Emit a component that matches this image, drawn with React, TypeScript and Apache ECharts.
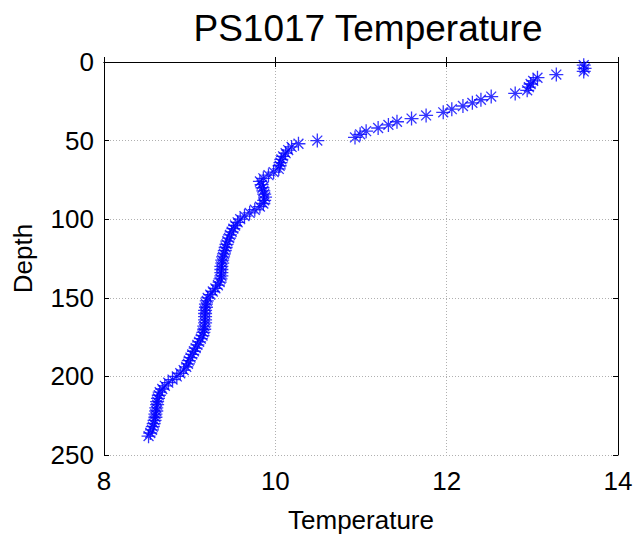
import React, { useEffect, useRef } from "react";
import * as echarts from "echarts";

const depths: number[] = [
  2, 4, 6, 8, 10, 12, 14, 16, 18, 20, 22, 24, 26, 28, 30, 32, 34, 36, 38, 40,
  42, 44, 46, 48, 50, 52, 54, 56, 58, 60, 62, 64, 66, 68, 70, 72, 74, 76, 78, 80,
  82, 84, 86, 88, 90, 92, 94, 96, 98, 100, 102, 104, 106, 108, 110, 112, 114, 116, 118, 120,
  122, 124, 126, 128, 130, 132, 134, 136, 138, 140, 142, 144, 146, 148, 150, 152, 154, 156, 158, 160,
  162, 164, 166, 168, 170, 172, 174, 176, 178, 180, 182, 184, 186, 188, 190, 192, 194, 196, 198, 200,
  202, 204, 206, 208, 210, 212, 214, 216, 218, 220, 222, 224, 226, 228, 230, 232, 234, 236, 238,
];

const temperatures: number[] = [
  13.6, 13.61, 13.6, 13.28, 13.06, 13.01, 12.98, 12.96, 12.94, 12.8, 12.52, 12.4, 12.3, 12.19, 12.06, 11.96, 11.76, 11.59, 11.42, 11.32,
  11.2, 11.06, 10.99, 10.93, 10.49, 10.27, 10.19, 10.15, 10.12, 10.09, 10.07, 10.06, 10.05, 10.04, 9.98, 9.92, 9.86, 9.82, 9.84, 9.85,
  9.86, 9.87, 9.88, 9.87, 9.86, 9.82, 9.76, 9.7, 9.64, 9.59, 9.56, 9.53, 9.51, 9.49, 9.47, 9.46, 9.44, 9.43, 9.42, 9.41,
  9.4, 9.39, 9.38, 9.38, 9.37, 9.37, 9.37, 9.37, 9.36, 9.35, 9.33, 9.3, 9.27, 9.24, 9.21, 9.2, 9.19, 9.19, 9.18, 9.18,
  9.18, 9.18, 9.18, 9.17, 9.17, 9.16, 9.15, 9.13, 9.11, 9.09, 9.07, 9.05, 9.03, 9.01, 8.99, 8.98, 8.96, 8.93, 8.89, 8.85,
  8.8, 8.75, 8.71, 8.68, 8.65, 8.64, 8.63, 8.62, 8.62, 8.61, 8.61, 8.6, 8.6, 8.59, 8.58, 8.57, 8.56, 8.54, 8.52,
];

const xTicks = { min: 8, max: 14, interval: 2 };
const yTicks = { min: 0, max: 250, interval: 50 };

const FONT = "'Liberation Sans', Arial, Helvetica, sans-serif";
const ASTERISK =
  "path://M6 0 L6 12 M0 6 L12 6 M1.76 1.76 L10.24 10.24 M1.76 10.24 L10.24 1.76";

export default function App() {
  const ref = useRef<HTMLDivElement>(null);

  useEffect(() => {
    if (!ref.current) return;
    const chart = echarts.init(ref.current, null, { renderer: "svg" });
    const points = depths.map((d, i) => [temperatures[i], d]);

    const axisLine = { show: true, lineStyle: { color: "#000", width: 1 } };
    const axisTick = { show: true, inside: true, length: 5, lineStyle: { color: "#000", width: 1 } };
    const splitLine = { show: true, lineStyle: { color: "#b0b0b0", type: [1, 2] as any, width: 1 } };

    chart.setOption({
      animation: false,
      backgroundColor: "#fff",
      title: {
        text: "PS1017 Temperature",
        left: 363,
        top: 5,
        textAlign: "center",
        textStyle: { fontFamily: FONT, fontSize: 37, fontWeight: "normal", color: "#000" },
      },
      grid: { left: 104, top: 62, right: 19, bottom: 83, containLabel: false },
      xAxis: [
        {
          type: "value",
          position: "bottom",
          min: xTicks.min,
          max: xTicks.max,
          interval: xTicks.interval,
          name: "Temperature",
          nameLocation: "middle",
          nameGap: 52,
          nameTextStyle: { fontFamily: FONT, fontSize: 26, color: "#000", verticalAlign: "top" },
          axisLine,
          axisTick,
          splitLine,
          axisLabel: { fontFamily: FONT, fontSize: 26, color: "#000", margin: 13 },
        },
        {
          type: "value",
          position: "top",
          min: xTicks.min,
          max: xTicks.max,
          interval: xTicks.interval,
          axisLine,
          axisTick,
          splitLine: { show: false },
          axisLabel: { show: false },
        },
      ],
      yAxis: [
        {
          type: "value",
          position: "left",
          inverse: true,
          min: yTicks.min,
          max: yTicks.max,
          interval: yTicks.interval,
          name: "Depth",
          nameLocation: "middle",
          nameGap: 68,
          nameRotate: 90,
          nameTextStyle: { fontFamily: FONT, fontSize: 26, color: "#000" },
          axisLine,
          axisTick,
          splitLine,
          axisLabel: { fontFamily: FONT, fontSize: 26, color: "#000", margin: 10 },
        },
        {
          type: "value",
          position: "right",
          inverse: true,
          min: yTicks.min,
          max: yTicks.max,
          interval: yTicks.interval,
          axisLine,
          axisTick,
          splitLine: { show: false },
          axisLabel: { show: false },
        },
      ],
      series: [
        {
          type: "scatter",
          xAxisIndex: 0,
          yAxisIndex: 0,
          data: points,
          symbol: ASTERISK,
          symbolSize: 14,
          itemStyle: { color: "transparent", borderColor: "#0000ff", borderWidth: 1.3 },
          emphasis: { disabled: true },
        },
      ],
    });

    return () => chart.dispose();
  }, []);

  return (
    <div
      ref={ref}
      style={{ position: "fixed", left: 0, top: 0, width: 637, height: 538, background: "#fff" }}
    />
  );
}
